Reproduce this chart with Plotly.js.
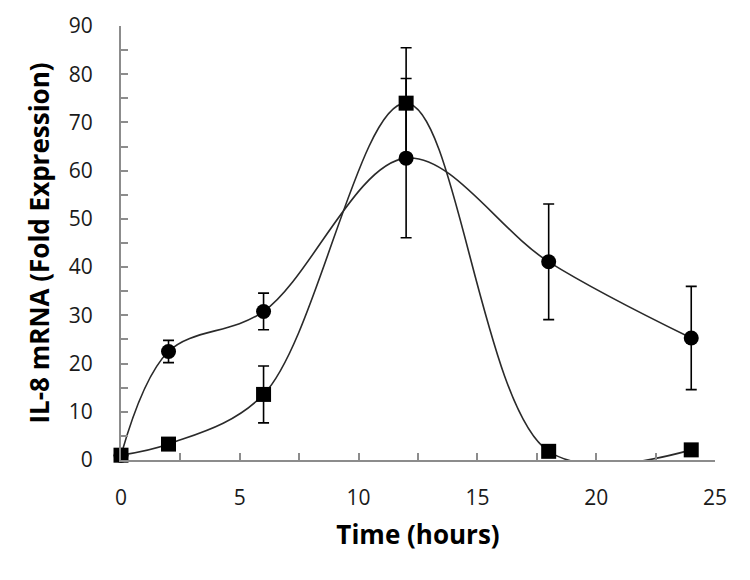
<!DOCTYPE html>
<html>
<head>
<meta charset="utf-8">
<script src="https://cdn.plot.ly/plotly-3.0.1.min.js"></script>
<style>html,body{margin:0;padding:0;background:#fff;}#chart{width:750px;height:580px;}</style>
</head>
<body>
<div id="chart"></div>
<script>
// Data
const timeHours = [0, 2, 6, 12, 18, 24];
const circleValues = [1.0, 22.5, 30.8, 62.6, 41.1, 25.3];
const circleErrors = [0.5, 2.3, 3.8, 16.5, 12.0, 10.7];
const squareValues = [1.0, 3.3, 13.6, 74.0, 1.8, 2.1];
const squareErrors = [0.3, 0.5, 5.9, 11.5, 0.5, 0.5];

const xTickVals = [0, 5, 10, 15, 20, 25];
const yTickVals = [0, 10, 20, 30, 40, 50, 60, 70, 80, 90];

const lineStyle = {color: '#2a2a2a', width: 1.6, shape: 'spline', smoothing: 1};
const errStyle = {color: '#000', thickness: 1.6, width: 5.5};

const traces = [
  {
    x: timeHours, y: circleValues, type: 'scatter', mode: 'lines+markers',
    line: lineStyle,
    marker: {symbol: 'circle', size: 15, color: '#000'},
    error_y: Object.assign({type: 'data', array: circleErrors, visible: true}, errStyle),
    cliponaxis: false, showlegend: false
  },
  {
    x: timeHours, y: squareValues, type: 'scatter', mode: 'lines+markers',
    line: lineStyle,
    marker: {symbol: 'square', size: 15, color: '#000'},
    error_y: Object.assign({type: 'data', array: squareErrors, visible: true}, errStyle),
    cliponaxis: false, showlegend: false
  }
];

const tickFont = {family: '"Open Sans", sans-serif', size: 21, color: '#1a1a1a'};
const titleFont = {family: '"Open Sans", sans-serif', size: 26, color: '#000', weight: 'bold'};

const layout = {
  width: 750, height: 580,
  margin: {l: 121, r: 35, t: 26, b: 120},
  paper_bgcolor: '#fff', plot_bgcolor: '#fff',
  xaxis: {
    range: [0, 25], tickvals: xTickVals, ticktext: xTickVals.map(String),
    showgrid: false, zeroline: false, showline: true, linecolor: '#8c8c8c', linewidth: 2,
    ticks: 'inside', ticklen: 7, tickwidth: 2, tickcolor: '#8c8c8c',
    minor: {dtick: 2.5, tick0: 0, ticks: 'inside', ticklen: 7, tickwidth: 2, tickcolor: '#8c8c8c', showgrid: false},
    tickfont: tickFont, ticklabelstandoff: 18,
    title: {text: 'Time (hours)', font: titleFont, standoff: 16}
  },
  yaxis: {
    range: [0, 90], tickvals: yTickVals, ticktext: yTickVals.map(String),
    showgrid: false, zeroline: false, showline: true, linecolor: '#8c8c8c', linewidth: 2,
    ticks: 'inside', ticklen: 7, tickwidth: 2, tickcolor: '#8c8c8c',
    minor: {dtick: 5, tick0: 0, ticks: 'inside', ticklen: 7, tickwidth: 2, tickcolor: '#8c8c8c', showgrid: false},
    tickfont: tickFont, ticklabelstandoff: 22,
    title: {text: 'IL-8 mRNA (Fold Expression)', font: Object.assign({}, titleFont, {size: 26}), standoff: 12}
  }
};

Plotly.newPlot('chart', traces, layout, {displayModeBar: false, staticPlot: true});
</script>
</body>
</html>
